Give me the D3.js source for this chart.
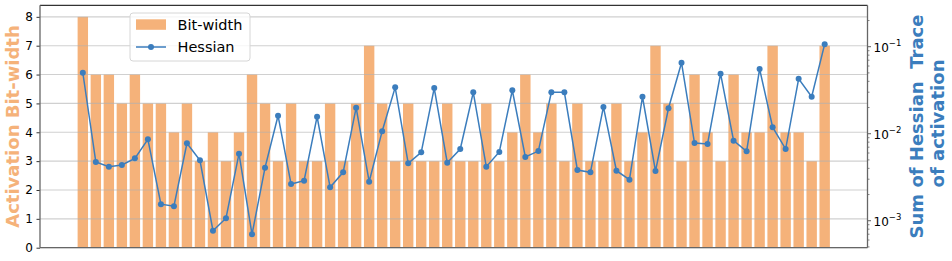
<!DOCTYPE html>
<html>
<head>
<meta charset="utf-8">
<script src="https://cdn.jsdelivr.net/npm/d3@7"></script>
<style>
  body { margin: 0; background: #fff; }
  svg { font-family: "DejaVu Sans", sans-serif; }
</style>
</head>
<body>
<svg width="952" height="261"></svg>
<script>
// bit-width assigned to each activation layer
const bitWidths = [8, 6, 6, 5, 6, 5, 5, 4, 5, 3, 4, 3, 4, 6, 5, 3, 5, 3, 3, 5,
                   3, 5, 7, 5, 3, 5, 3, 3, 5, 3, 3, 5, 3, 4, 6, 4, 5, 3, 5, 3,
                   3, 5, 3, 4, 7, 5, 3, 6, 4, 3, 6, 4, 4, 7, 4, 4, 3, 7];

// sum of Hessian trace per activation layer (log scale)
const hessian = [0.0502, 0.00473, 0.00418, 0.00437, 0.00521, 0.00863, 0.00155, 0.00147, 0.00776, 0.00494,
                 0.000767, 0.00107, 0.00589, 0.000698, 0.00407, 0.0161, 0.00264, 0.00289, 0.0157, 0.00242,
                 0.00360, 0.0199, 0.00281, 0.0107, 0.0341, 0.00457, 0.00611, 0.0335, 0.00465, 0.00667,
                 0.0299, 0.00418, 0.00617, 0.0316, 0.00540, 0.00632, 0.0299, 0.0299, 0.00383, 0.00360,
                 0.0203, 0.00376, 0.00296, 0.0266, 0.00372, 0.0196, 0.0655, 0.00782, 0.00762, 0.0490,
                 0.00832, 0.00628, 0.0555, 0.0119, 0.00667, 0.0428, 0.0266, 0.107];

const leftTicks = [0, 1, 2, 3, 4, 5, 6, 7, 8];
const rightTicks = [1e-3, 1e-2, 1e-1];
const rightTickExp = ["\u22123", "\u22122", "\u22121"];

const orange = "#f5b27a";
const blue = "#3b7dbd";

const svg = d3.select("svg");
const pLeft = 40, pRight = 867.5, pTop = 5.3, pBottom = 247.7;

// Scales
const x = d3.scaleLinear().domain([-3.29, bitWidths.length - 1 + 3.29]).range([pLeft, pRight]);
const y = d3.scaleLinear().domain([0, 8.4]).range([pBottom, pTop]);
const yLog = d3.scaleLog().domain([Math.pow(10, -3.31), Math.pow(10, -0.524)]).range([pBottom, pTop]);

const barW = x(0.4) - x(-0.4);

// Bars
svg.append("g")
  .selectAll("rect")
  .data(bitWidths)
  .join("rect")
  .attr("x", (d, i) => x(i) - barW / 2)
  .attr("y", d => y(d))
  .attr("width", barW)
  .attr("height", d => y(0) - y(d))
  .attr("fill", orange);

// Grid (drawn over the bars, like matplotlib's default)
svg.append("g")
  .selectAll("line")
  .data(leftTicks)
  .join("line")
  .attr("x1", pLeft).attr("x2", pRight)
  .attr("y1", d => y(d)).attr("y2", d => y(d))
  .attr("stroke", "#b0b0b0")
  .attr("stroke-opacity", 0.6)
  .attr("stroke-width", 1.1);

// Left axis
const axL = svg.append("g")
  .attr("transform", `translate(${pLeft},0)`)
  .call(d3.axisLeft(y).tickValues(leftTicks).tickFormat(d3.format("d")).tickSize(3.5).tickPadding(3.5));
axL.select(".domain").remove();
axL.selectAll("line").attr("stroke", "#333");
axL.selectAll("text").attr("font-size", "12px").attr("fill", "#000").attr("font-family", "DejaVu Sans");

// Right axis (log), with minor ticks
const minor = [];
for (let e = -4; e <= 0; e++) {
  for (let m = 2; m <= 9; m++) {
    const v = m * Math.pow(10, e);
    if (v >= yLog.domain()[0] && v <= yLog.domain()[1]) minor.push(v);
  }
}
const axR = svg.append("g").attr("transform", `translate(${pRight},0)`);
axR.selectAll(".minor")
  .data(minor)
  .join("line")
  .attr("class", "minor")
  .attr("x1", 0).attr("x2", 2)
  .attr("y1", d => yLog(d)).attr("y2", d => yLog(d))
  .attr("stroke", "#333").attr("stroke-width", 0.6);
axR.selectAll(".major")
  .data(rightTicks)
  .join("line")
  .attr("class", "major")
  .attr("x1", 0).attr("x2", 3.5)
  .attr("y1", d => yLog(d)).attr("y2", d => yLog(d))
  .attr("stroke", "#333").attr("stroke-width", 0.8);
const rt = axR.selectAll(".lbl")
  .data(rightTicks)
  .join("text")
  .attr("class", "lbl")
  .attr("x", 6)
  .attr("y", d => yLog(d) + 5)
  .attr("font-size", "12px")
  .attr("fill", "#000");
rt.append("tspan").text("10");
rt.append("tspan")
  .attr("font-size", "8.5px")
  .attr("dy", -5.5)
  .text((d, i) => rightTickExp[i]);

// Hessian line + markers
const line = d3.line().x((d, i) => x(i)).y(d => yLog(d));
svg.append("path")
  .datum(hessian)
  .attr("d", line)
  .attr("fill", "none")
  .attr("stroke", blue)
  .attr("stroke-width", 1.5);
svg.append("g")
  .selectAll("circle")
  .data(hessian)
  .join("circle")
  .attr("cx", (d, i) => x(i))
  .attr("cy", d => yLog(d))
  .attr("r", 3)
  .attr("fill", blue);

// Spines
svg.append("line").attr("x1", pLeft).attr("x2", pRight).attr("y1", pTop).attr("y2", pTop)
  .attr("stroke", "#000").attr("stroke-width", 1);
svg.append("line").attr("x1", pLeft).attr("x2", pRight).attr("y1", pBottom).attr("y2", pBottom)
  .attr("stroke", "#666").attr("stroke-width", 1.3);
svg.append("line").attr("x1", pLeft).attr("x2", pLeft).attr("y1", pTop).attr("y2", pBottom)
  .attr("stroke", "#666").attr("stroke-width", 1.3);
svg.append("line").attr("x1", pRight).attr("x2", pRight).attr("y1", pTop).attr("y2", pBottom)
  .attr("stroke", "#666").attr("stroke-width", 1.3);

// Axis titles
svg.append("text")
  .attr("transform", `translate(19,${(pTop + pBottom) / 2}) rotate(-90)`)
  .attr("text-anchor", "middle")
  .attr("font-size", "18px")
  .attr("font-weight", "bold")
  .attr("fill", orange)
  .text("Activation Bit-width");

const rTitle = svg.append("text")
  .attr("transform", `translate(922.5,${(pTop + pBottom) / 2}) rotate(-90)`)
  .attr("text-anchor", "middle")
  .attr("font-size", "18px")
  .attr("font-weight", "bold")
  .attr("fill", blue);
rTitle.append("tspan").attr("x", 0).attr("y", 0).attr("xml:space", "preserve").text("Sum of Hessian  Trace");
rTitle.append("tspan").attr("x", 3).attr("y", 21.6).text("of activation");

// Legend
const lg = svg.append("g");
lg.append("rect")
  .attr("x", 130).attr("y", 13).attr("width", 120).attr("height", 48).attr("rx", 3)
  .attr("fill", "#fff").attr("fill-opacity", 0.8)
  .attr("stroke", "#d6d6d6");
lg.append("rect")
  .attr("x", 136).attr("y", 19.3).attr("width", 30).attr("height", 10.5)
  .attr("fill", orange);
lg.append("line")
  .attr("x1", 136).attr("x2", 166).attr("y1", 47).attr("y2", 47)
  .attr("stroke", blue).attr("stroke-width", 1.5);
lg.append("circle").attr("cx", 151).attr("cy", 47).attr("r", 3).attr("fill", blue);
lg.append("text").attr("x", 177.5).attr("y", 30).attr("font-size", "14.5px").attr("fill", "#000").text("Bit-width");
lg.append("text").attr("x", 177.5).attr("y", 52).attr("font-size", "14.5px").attr("fill", "#000").text("Hessian");
</script>
</body>
</html>
